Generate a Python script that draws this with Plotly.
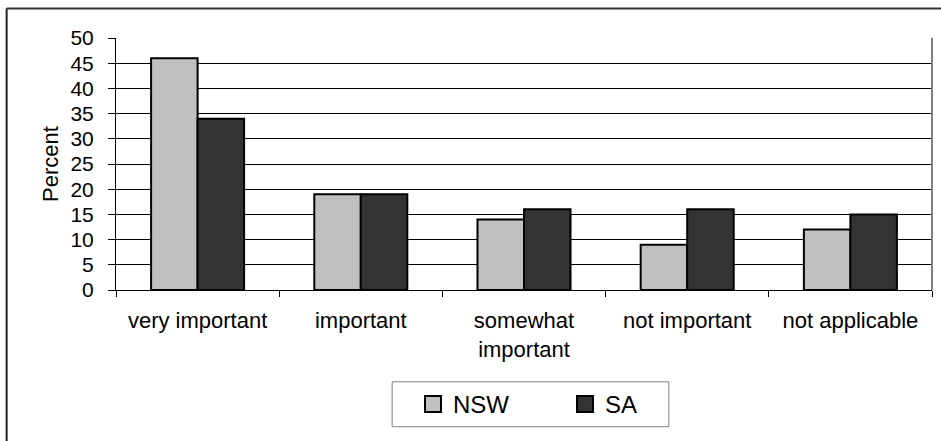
import plotly.graph_objects as go

categories = ["very important", "important", "somewhat important", "not important", "not applicable"]
tick_labels = ["very important", "important", "somewhat<br>important", "not important", "not applicable"]
nsw_values = [46, 19, 14, 9, 12]
sa_values = [34, 19, 16, 16, 15]
y_ticks = [0, 5, 10, 15, 20, 25, 30, 35, 40, 45, 50]

FONT = "Liberation Sans, Arial, sans-serif"
W, H = 941, 441
L, R, T, B = 115.5, 8.5, 37.5, 151
pw = W - L - R
ph = H - T - B


def px(x):
    return (x - L) / pw


def py(y):
    return (H - B - y) / ph


fig = go.Figure()
fig.add_trace(go.Bar(x=categories, y=nsw_values, name="NSW", showlegend=False,
                     marker=dict(color="#c0c0c0", line=dict(color="#000000", width=2))))
fig.add_trace(go.Bar(x=categories, y=sa_values, name="SA", showlegend=False,
                     marker=dict(color="#333333", line=dict(color="#000000", width=2))))
# legend entries (one legend per entry, framed together)
fig.add_trace(go.Scatter(x=[None], y=[None], mode="markers", name="NSW", legend="legend",
                         marker=dict(symbol="square", size=17, color="#c0c0c0",
                                     line=dict(color="#000000", width=2))))
fig.add_trace(go.Scatter(x=[None], y=[None], mode="markers", name="SA", legend="legend2",
                         marker=dict(symbol="square", size=17, color="#333333",
                                     line=dict(color="#000000", width=2))))

leg_common = dict(orientation="h", xref="container", yref="container",
                  xanchor="left", yanchor="middle", y=1 - 404.5 / H,
                  borderwidth=0, bgcolor="rgba(0,0,0,0)", itemsizing="trace",
                  font=dict(family=FONT, size=24, color="#000000"))

fig.update_layout(
    width=W, height=H,
    margin=dict(l=L, r=R, t=T, b=B, autoexpand=False),
    paper_bgcolor="white", plot_bgcolor="white",
    font=dict(family=FONT, size=22, color="#000000"),
    barmode="group", bargap=0.43, bargroupgap=0,
    showlegend=True,
    legend=dict(leg_common, x=(433 - 20) / W),
    legend2=dict(leg_common, x=(585 - 20) / W),
    xaxis=dict(type="category", categoryorder="array", categoryarray=categories,
               tickmode="array", tickvals=categories, ticktext=tick_labels,
               tickson="boundaries", ticks="outside", ticklen=6, tickcolor="#000000",
               showline=True, linecolor="#000000", linewidth=1,
               showgrid=False, zeroline=False, ticklabelstandoff=11,
               tickfont=dict(family=FONT, size=22, color="#000000")),
    yaxis=dict(range=[0, 50], tickmode="array", tickvals=y_ticks,
               ticks="outside", ticklen=7, tickcolor="#000000",
               showline=True, linecolor="#000000", linewidth=1,
               showgrid=True, gridcolor="#000000", gridwidth=1, zeroline=False,
               ticklabelstandoff=10,
               tickfont=dict(family=FONT, size=21, color="#000000")),
    shapes=[
        dict(type="line", xref="paper", yref="paper", x0=1, x1=1, y0=0, y1=1,
             line=dict(color="#808080", width=2)),
        dict(type="line", xref="paper", yref="paper", x0=px(6), x1=1.2, y0=py(8), y1=py(8),
             line=dict(color="#333333", width=2)),
        dict(type="line", xref="paper", yref="paper", x0=px(6), x1=px(6), y0=-1, y1=py(8),
             line=dict(color="#222222", width=2)),
        dict(type="rect", xref="paper", yref="paper", x0=px(392), x1=px(669),
             y0=py(427), y1=py(382), line=dict(color="#808080", width=1),
             fillcolor="rgba(0,0,0,0)"),
    ],
)
fig.update_yaxes(title=dict(text="Percent", standoff=5,
                            font=dict(family=FONT, size=22, color="#000000")))

fig.write_html("out.html", config={"displayModeBar": False},
               post_script="document.body.style.margin='0';")
